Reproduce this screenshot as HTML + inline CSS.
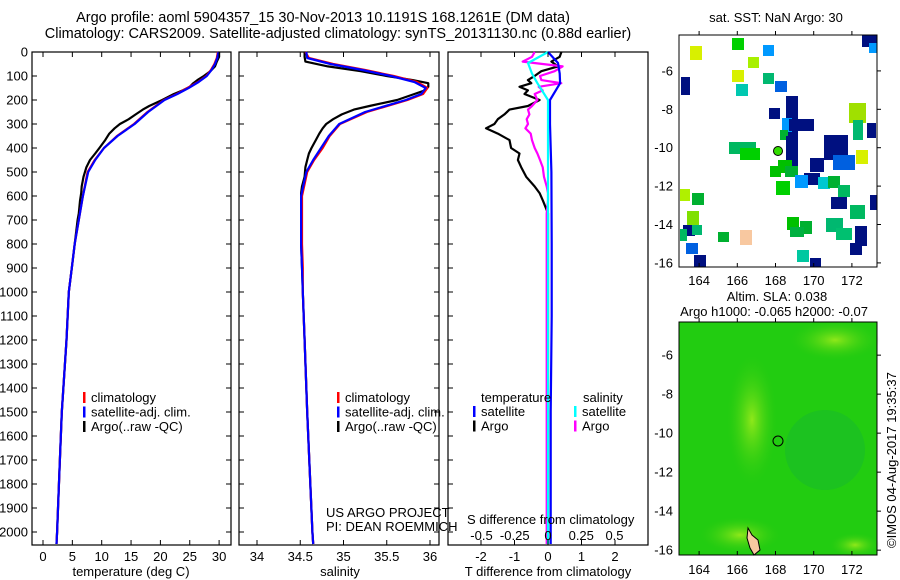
<!DOCTYPE html>
<html><head><meta charset="utf-8">
<style>
html,body{margin:0;padding:0;background:#fff;}
svg{display:block;font-family:"Liberation Sans",sans-serif;font-size:13px;}
.big{font-size:14.5px;}
.lg{font-size:13px;}
</style></head>
<body>
<svg id="fig" width="900" height="580" viewBox="0 0 900 580" xmlns="http://www.w3.org/2000/svg">
<text class="big" x="323" y="22" text-anchor="middle">Argo profile: aoml 5904357_15 30-Nov-2013 10.1191S 168.1261E (DM data)</text>
<text class="big" x="338" y="38" text-anchor="middle">Climatology: CARS2009. Satellite-adjusted climatology: synTS_20131130.nc (0.88d earlier)</text>
<g id="p1"></g>
<g id="p2"></g>
<g id="p3"></g>
<g id="m1"></g>
<g id="m2"></g>
<text class="lg" x="776" y="22" text-anchor="middle">sat. SST: NaN  Argo: 30</text>
<text class="lg" x="777" y="301" text-anchor="middle">Altim. SLA: 0.038</text>
<text class="lg" x="868" y="316" text-anchor="end">Argo h1000: -0.065 h2000: -0.07</text>
<text class="lg" transform="translate(896,548) rotate(-90)">©IMOS 04-Aug-2017 19:35:37</text>
</svg>
<script>
// ---- data ----
const depthTicks=[0,100,200,300,400,500,600,700,800,900,1000,1100,1200,1300,1400,1500,1600,1700,1800,1900,2000];
const tempTicks=[0,5,10,15,20,25,30];
const salTicks=[34,34.5,35,35.5,36];
const tdiffTicks=[-2,-1,0,1,2];
const sdiffTicks=[-0.5,-0.25,0,0.25,0.5];
const sdiffLabels=["-0.5","-0.25","0","0.25","0.5"];
const climDepth=[0,25,50,75,100,125,150,175,200,250,300,350,400,450,500,600,700,800,900,1000,1200,1500,1750,2000,2050];
const tempClim=[29.8,29.6,29.2,28.6,27.8,26.4,24.6,22.8,20.6,17.8,15.5,12.6,10.4,8.8,7.6,6.8,6.1,5.4,4.9,4.4,4.0,3.2,2.8,2.4,2.3];
const tempSat=[29.9,29.7,29.3,28.7,27.9,26.5,24.8,22.9,20.7,17.9,15.6,12.7,10.4,8.9,7.7,6.8,6.1,5.4,4.9,4.4,4.0,3.2,2.8,2.4,2.3];
const salClim=[34.56,34.6,34.88,35.25,35.58,35.85,35.97,35.92,35.74,35.27,34.96,34.84,34.76,34.66,34.58,34.52,34.52,34.52,34.53,34.53,34.55,34.58,34.61,34.64,34.65];
const salSat=[34.57,34.58,34.85,35.22,35.55,35.82,35.95,35.9,35.72,35.25,34.95,34.83,34.74,34.65,34.57,34.51,34.51,34.51,34.52,34.53,34.55,34.58,34.61,34.64,34.65];
const argoDepth=[0,20,40,60,80,100,117,130,145,160,175,200,225,240,260,280,300,318,340,367,400,423,450,480,520,560,588,620,672,700,800,900,1000,1200,1500,1750,2000,2050];
const tempArgo=[30.0,30.0,29.6,29.3,28.5,27.4,26.3,25.6,25.0,23.8,22.3,20.3,18.1,17.0,15.8,14.6,13.1,12.2,11.3,10.6,9.6,8.9,8.0,7.4,6.9,6.6,6.5,6.3,6.1,5.9,5.4,4.9,4.4,4.0,3.2,2.8,2.4,2.3];
const salArgo=[34.55,34.55,34.56,34.82,35.2,35.5,35.8,35.98,35.98,35.94,35.82,35.62,35.3,35.12,34.98,34.88,34.8,34.76,34.72,34.68,34.63,34.6,34.58,34.56,34.55,34.52,34.51,34.51,34.51,34.51,34.51,34.52,34.53,34.55,34.58,34.61,34.64,34.65];
const tdiffArgo=[0.4,0.35,0.1,0.3,-0.2,-0.4,-0.6,-0.5,-0.85,-0.6,-0.7,-0.25,-0.6,-1.15,-1.3,-1.5,-1.6,-1.85,-1.5,-1.15,-1.1,-0.85,-0.9,-0.8,-0.65,-0.4,-0.25,-0.15,0,0,0,0,0,0,0,0,0,0];
const sdiffArgo=[-0.1,-0.12,-0.19,0.11,0.05,-0.06,-0.05,0.1,-0.07,-0.04,-0.1,-0.08,-0.12,-0.15,-0.14,-0.16,-0.15,-0.17,-0.13,-0.12,-0.1,-0.08,-0.06,-0.04,-0.03,-0.01,0,0,-0.01,-0.01,-0.01,-0.01,-0.01,-0.01,-0.01,-0.01,-0.01,-0.01];
const satDiffDepth=[0,46,90,130,200,300,500,800,1100,1500,2050];
const tdiffSat=[0,0.3,0.35,0.36,0.06,0.06,0.1,0.11,0.11,0.08,0.08];
const sdiffSat=[0,-0.15,-0.12,-0.08,0,0,0,0,0,0,0];

const NS="http://www.w3.org/2000/svg";
function mk(tag,attrs,parent){const e=document.createElementNS(NS,tag);for(const k in attrs)e.setAttribute(k,attrs[k]);parent.appendChild(e);return e;}
const TOP=52,BOT=545;
const yD=d=>TOP+d*0.24;

function frame(g,x0,x1){
  const r=mk('rect',{x:x0,y:TOP,width:x1-x0,height:BOT-TOP,fill:'none',stroke:'#000','stroke-width':1.2},g);
  
  
}
function line(g,xs,ds,xf,color,name,w){
  const p=xs.map((v,i)=>`${i?'L':'M'}${xf(v).toFixed(1)},${yD(ds[i]).toFixed(1)}`).join('');
  const e=mk('path',{d:p,fill:'none',stroke:color,'stroke-width':w||2.2,'stroke-linejoin':'round'},g);
  
  
}
function xticks(g,ticks,labels,xf,ly,name){
  ticks.forEach((t,i)=>{
    const x=xf(t);
    mk('line',{x1:x,x2:x,y1:BOT,y2:BOT-5,stroke:'#000'},g);
    mk('line',{x1:x,x2:x,y1:TOP,y2:TOP+5,stroke:'#000'},g);
    const tx=mk('text',{x:x,y:ly,'text-anchor':'middle','class':'lg'},g);
    tx.textContent=labels[i];
    
    
  });
}
function legend(g,x,y,items){
  items.forEach((it,i)=>{
    mk('rect',{x:x,y:y+i*14.5-10,width:2.5,height:11,fill:it[1]},g);
    const t=mk('text',{x:x+8,y:y+i*14.5,'class':'lg'},g);t.textContent=it[0];
    
    
  });
}
// panel 1
const g1=document.getElementById('p1');
const xT=t=>43+t*5.87;
depthTicks.forEach(d=>{
  const y=yD(d);
  mk('line',{x1:32,x2:37,y1:y,y2:y,stroke:'#000'},g1);
  mk('line',{x1:231,x2:226,y1:y,y2:y,stroke:'#000'},g1);
  mk('line',{x1:239,x2:244,y1:y,y2:y,stroke:'#000'},g1);
  mk('line',{x1:439,x2:434,y1:y,y2:y,stroke:'#000'},g1);
  mk('line',{x1:448,x2:453,y1:y,y2:y,stroke:'#000'},g1);
  const t=mk('text',{x:28,y:y+4.5,'text-anchor':'end'},g1);t.textContent=d;
  
  
});
frame(g1,32,231);
line(g1,tempArgo,argoDepth,xT,'#000','temp-argo-line');
line(g1,tempClim,climDepth,xT,'#f00','temp-clim-line');
line(g1,tempSat,climDepth,xT,'#00f','temp-sat-line');
xticks(g1,tempTicks,tempTicks.map(String),xT,561,'temp-tick-label');
let t1=mk('text',{x:131,y:576,'text-anchor':'middle','class':'lg'},g1);t1.textContent='temperature (deg C)';
legend(g1,83,402,[['climatology','#f00'],['satellite-adj. clim.','#00f'],['Argo(..raw -QC)','#000']]);
// panel 2
const g2=document.getElementById('p2');
const xS=s=>257+(s-34)*86.5;
frame(g2,239,439);
line(g2,salArgo,argoDepth,xS,'#000','sal-argo-line');
line(g2,salClim,climDepth,xS,'#f00','sal-clim-line');
line(g2,salSat,climDepth,xS,'#00f','sal-sat-line');
xticks(g2,salTicks,salTicks.map(String),xS,561,'sal-tick-label');
let t2=mk('text',{x:340,y:576,'text-anchor':'middle','class':'lg'},g2);t2.textContent='salinity';
legend(g2,337,402,[['climatology','#f00'],['satellite-adj. clim.','#00f'],['Argo(..raw -QC)','#000']]);
let u1=mk('text',{x:326,y:517,'class':'lg'},g2);u1.textContent='US ARGO PROJECT';
let u2=mk('text',{x:326,y:531,'class':'lg'},g2);u2.textContent='PI: DEAN ROEMMICH';
// panel 3
const g3=document.getElementById('p3');
const xTd=v=>548+v*33.5;
const xSd=v=>548+v*133;
frame(g3,448,648);
line(g3,tdiffArgo,argoDepth,xTd,'#000','tdiff-argo-line');
line(g3,sdiffArgo,argoDepth,xSd,'#f0f','sdiff-argo-line');
line(g3,tdiffSat,satDiffDepth,xTd,'#00f','tdiff-sat-line');
line(g3,sdiffSat,satDiffDepth,xSd,'#0ff','sdiff-sat-line');
xticks(g3,tdiffTicks,tdiffTicks.map(String),xTd,561,'tdiff-tick-label');
sdiffTicks.forEach((v,i)=>{const t=mk('text',{x:xSd(v),y:540,'text-anchor':'middle','class':'lg'},g3);t.textContent=sdiffLabels[i];
  
  });
let t3=mk('text',{x:548,y:576,'text-anchor':'middle','class':'lg'},g3);t3.textContent='T difference from climatology';
let t4=mk('text',{x:467,y:524,'class':'lg'},g3);t4.textContent='S difference from climatology';
let lt=mk('text',{x:481,y:402,'class':'lg'},g3);lt.textContent='temperature';
let ls=mk('text',{x:583,y:402,'class':'lg'},g3);ls.textContent='salinity';
legend(g3,473,416,[['satellite','#00f'],['Argo','#000']]);
legend(g3,574,416,[['satellite','#0ff'],['Argo','#f0f']]);

// maps
function mapAxes(g,x0,y0,x1,y1,latTop,pxPerDeg,lblY){
  const lonX=l=>680+(l-163)*19.1;
  const latY=l=>y0+(latTop-l)*pxPerDeg;
  [164,166,168,170,172].forEach(l=>{
    const x=lonX(l);
    mk('line',{x1:x,x2:x,y1:y1,y2:y1-4,stroke:'#000'},g);
    mk('line',{x1:x,x2:x,y1:y0,y2:y0-4,stroke:'#000'},g);
    const t=mk('text',{x:x,y:lblY,'text-anchor':'middle','class':'lg'},g);t.textContent=l;
    
    
  });
  [-6,-8,-10,-12,-14,-16].forEach(l=>{
    const y=latY(l);
    mk('line',{x1:x1,x2:x1+4,y1:y,y2:y,stroke:'#000'},g);
    const t=mk('text',{x:673,y:y+4.5,'text-anchor':'end','class':'lg'},g);t.textContent=l;
    
    
  });
  const r=mk('rect',{x:x0,y:y0,width:x1-x0,height:y1-y0,fill:'none',stroke:'#000'},g);
  
  
}
const m1=document.getElementById('m1');
mk('rect',{x:679,y:35,width:198,height:232,fill:'#fff'},m1);
const cells=[[732,38,12,12,'#00d000'],[690,46,12,14,'#d8f000'],[763,45,11,11,'#0099ff'],[748,57,11,11,'#a8f000'],[732,70,12,12,'#d8f000'],[763,73,11,11,'#00b870'],[736,84,12,12,'#00c8b0'],[681,77,9,18,'#001080'],[775,81,12,11,'#0060e0'],[786,96,12,40,'#001080'],[769,108,11,11,'#001080'],[782,118,10,14,'#0099ff'],[789,119,25,12,'#001080'],[780,130,8,10,'#00b030'],[824,135,24,25,'#001080'],[849,103,17,20,'#a0e000'],[853,120,10,20,'#00b870'],[867,123,9,15,'#001080'],[729,142,27,12,'#00b860'],[740,148,20,12,'#00d000'],[786,136,12,30,'#001080'],[810,158,14,14,'#001080'],[778,160,14,13,'#00c000'],[833,155,22,15,'#0060e0'],[856,150,12,14,'#d8f000'],[862,35,15,12,'#001080'],[869,43,8,10,'#0099ff'],[770,166,11,11,'#00c000'],[785,166,13,11,'#00b030'],[804,173,16,12,'#001080'],[795,175,13,13,'#0099ff'],[776,181,14,14,'#00d000'],[818,177,12,12,'#00c8d0'],[680,189,10,12,'#b0f000'],[692,193,12,12,'#00b030'],[828,176,12,12,'#00b030'],[838,185,12,12,'#00b860'],[831,197,16,12,'#001080'],[850,205,15,14,'#00b860'],[870,195,7,15,'#001080'],[687,211,12,20,'#80e000'],[683,225,12,11,'#001080'],[692,225,10,10,'#00b870'],[718,232,11,10,'#00b030'],[680,229,7,12,'#00b860'],[686,243,12,11,'#0060e0'],[694,255,12,12,'#001080'],[787,217,12,13,'#00c000'],[800,221,12,13,'#00b030'],[790,227,14,10,'#00b040'],[826,218,17,14,'#00b870'],[836,228,16,12,'#00c070'],[855,226,12,20,'#001080'],[850,243,12,12,'#001080'],[797,250,12,12,'#00c8a0'],[810,258,11,9,'#001080'],[740,230,12,15,'#f8c8a0']];
cells.forEach(c=>{const r=mk('rect',{x:c[0],y:c[1],width:c[2],height:c[3],fill:c[4]},m1);
  
  });
mk('circle',{cx:778,cy:151,r:4.5,fill:'#33dd00',stroke:'#000'},m1);
mapAxes(m1,679,35,877,267,-4.13,19.2,285);

const m2=document.getElementById('m2');
const gr=mk('defs',{},m2);
gr.innerHTML='<radialGradient id="g1" cx="0.5" cy="0.5" r="0.5"><stop offset="0" stop-color="#8fe81a"/><stop offset="1" stop-color="#33cc11" stop-opacity="0"/></radialGradient>';
mk('rect',{x:679,y:322,width:198,height:233,fill:'#22cc11'},m2);
mk('ellipse',{cx:752,cy:420,rx:25,ry:65,fill:'url(#g1)'},m2);
mk('ellipse',{cx:740,cy:535,rx:40,ry:18,fill:'url(#g1)'},m2);
mk('ellipse',{cx:855,cy:545,rx:25,ry:12,fill:'url(#g1)'},m2);
mk('ellipse',{cx:835,cy:340,rx:45,ry:20,fill:'url(#g1)'},m2);
mk('ellipse',{cx:825,cy:450,rx:40,ry:40,fill:'#15b830',opacity:0.5},m2);
mk('path',{d:'M748,528 L752,535 L758,540 L760,550 L754,555 L750,548 L747,538Z',fill:'#f8c8a0',stroke:'#000'},m2);
mk('circle',{cx:778,cy:441,r:5,fill:'none',stroke:'#000'},m2);
mapAxes(m2,679,322,877,555,-4.3,19.5,574);
</script>
</body></html>
